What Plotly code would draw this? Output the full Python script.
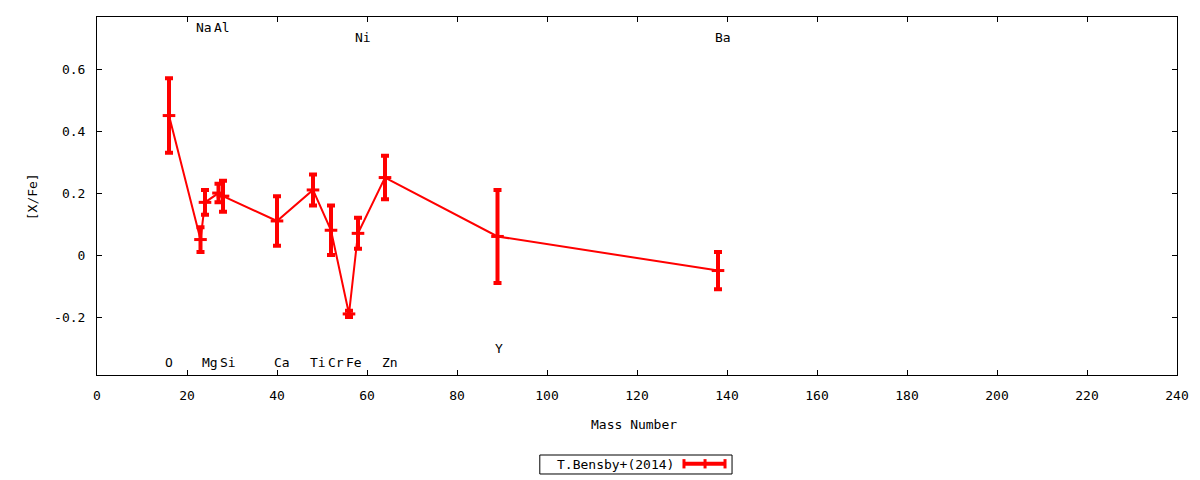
import plotly.graph_objects as go

# abundance pattern, T.Bensby+(2014)
mass = [16, 23, 24, 27, 28, 40, 48, 52, 56, 58, 64, 89, 138]
xfe = [0.45, 0.05, 0.17, 0.20, 0.19, 0.11, 0.21, 0.08, -0.19, 0.07, 0.25, 0.06, -0.05]
err = [0.12, 0.04, 0.04, 0.03, 0.05, 0.08, 0.05, 0.08, 0.01, 0.05, 0.07, 0.15, 0.06]

# element name labels
elem = ["O", "Na", "Mg", "Al", "Si", "Ca", "Ti", "Cr", "Fe", "Ni", "Zn", "Y", "Ba"]
label_x = [16, 23.8, 25, 27.8, 29, 41, 49, 53, 57, 59, 65, 89.3, 139]
label_y = [-0.348, 0.735, -0.348, 0.735, -0.348, -0.348, -0.348, -0.348, -0.348,
           0.703, -0.348, -0.303, 0.703]

font = dict(family="DejaVu Sans Mono", size=13, color="black")
red = "#ff0000"

fig = go.Figure()
fig.add_trace(go.Scatter(
    x=mass, y=xfe,
    mode="lines+markers",
    line=dict(color=red, width=2),
    marker=dict(symbol="line-ew", size=9, line=dict(color=red, width=3)),
    error_y=dict(type="data", array=err, color=red, thickness=4, width=4),
    name="T.Bensby+(2014)",
    showlegend=False,
))

annotations = []
for name, lx, ly in zip(elem, label_x, label_y):
    annotations.append(dict(x=lx, y=ly, xref="x", yref="y", text=name,
                            showarrow=False, font=font,
                            xanchor="center", yanchor="middle"))

# axis titles
annotations.append(dict(x=0.497, y=-0.137, xref="paper", yref="paper",
                        text="Mass Number", showarrow=False, font=font,
                        xanchor="center", yanchor="middle"))
annotations.append(dict(x=-0.060, y=0.497, xref="paper", yref="paper",
                        text="[X/Fe]", textangle=-90, showarrow=False, font=font,
                        xanchor="center", yanchor="middle"))

# legend box, gnuplot style (text then sample)
annotations.append(dict(x=0.424, y=-0.25, xref="paper", yref="paper",
                        text="T.Bensby+(2014)", showarrow=False, font=font,
                        xanchor="left", yanchor="middle"))

shapes = [
    dict(type="rect", xref="paper", yref="paper",
         x0=0.410, x1=0.588, y0=-0.2765, y1=-0.2235,
         line=dict(color="black", width=1), fillcolor="white", layer="below"),
    dict(type="line", xref="paper", yref="paper",
         x0=0.5435, x1=0.5815, y0=-0.248, y1=-0.248,
         line=dict(color=red, width=4)),
]
for cx in [0.5435, 0.5630, 0.5815]:
    shapes.append(dict(type="line", xref="paper", yref="paper",
                       x0=cx, x1=cx, y0=-0.261, y1=-0.235,
                       line=dict(color=red, width=3)))

fig.update_layout(
    width=1200, height=480,
    margin=dict(l=97, r=23, t=17, b=105),
    paper_bgcolor="white", plot_bgcolor="white",
    font=font,
    annotations=annotations,
    shapes=shapes,
    xaxis=dict(range=[0, 240], tickvals=list(range(0, 241, 20)),
               showgrid=False, zeroline=False,
               showline=True, linecolor="black", linewidth=1, mirror="ticks",
               ticks="inside", ticklen=5, tickcolor="black",
               ticklabelstandoff=8),
    yaxis=dict(range=[-0.387, 0.768], tickvals=[-0.2, 0, 0.2, 0.4, 0.6],
               ticktext=["-0.2", "0", "0.2", "0.4", "0.6"],
               showgrid=False, zeroline=False,
               showline=True, linecolor="black", linewidth=1, mirror="ticks",
               ticks="inside", ticklen=5, tickcolor="black",
               ticklabelstandoff=8),
)

fig.write_html("out.html", config={"displayModeBar": False},
               post_script="document.body.style.margin='0';")
